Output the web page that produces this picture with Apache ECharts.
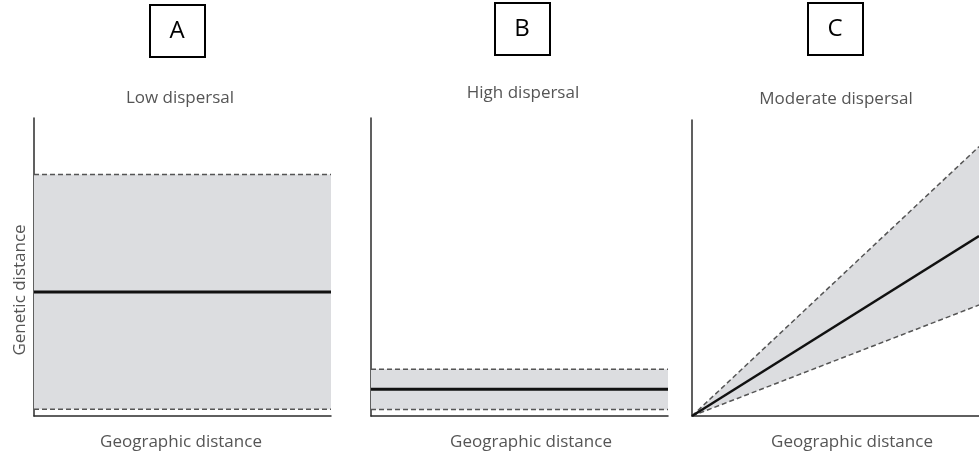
<!DOCTYPE html>
<html>
<head>
<meta charset="utf-8">
<script src="https://cdn.jsdelivr.net/npm/echarts@6/dist/echarts.min.js"></script>
<style>html,body{margin:0;padding:0;background:#fff;}#c{width:979px;height:456px;}</style>
</head>
<body>
<div id="c"></div>
<script>
// Geographic distance (relative scale: start, end)
const geoDist = ['0', '100'];
// Panel A: Low dispersal (genetic distance, relative 0-100)
const aLower = [2.3, 2.3];
const aMid = [41.6, 41.6];
const aUpper = [81, 81];
// Panel B: High dispersal
const bLower = [2.2, 2.2];
const bMid = [9, 9];
const bUpper = [15.7, 15.7];
// Panel C: Moderate dispersal
const cLower = [0, 37.5];
const cMid = [0, 60.8];
const cUpper = [0, 91];
// Text
const panelLetters = ['A', 'B', 'C'];
const panelTitles = ['Low dispersal', 'High dispersal', 'Moderate dispersal'];
const xName = 'Geographic distance';
const yName = 'Genetic distance';

const chart = echarts.init(document.getElementById('c'), null, {renderer: 'canvas'});
const FONT = '"Open Sans", "Noto Sans", sans-serif';
const AXIS_COLOR = '#2b2b2b';
const BAND = '#dcdde0';
const DASH = {color: '#555', width: 1.5, type: [5, 3]};

const grids = [
  {left: 34, top: 118, width: 297, height: 298},
  {left: 371, top: 118, width: 297, height: 298},
  {left: 692, top: 120, width: 287, height: 296}
];

const panels = [[aLower, aMid, aUpper], [bLower, bMid, bUpper], [cLower, cMid, cUpper]];
const xAxes = [], yAxes = [], series = [];
panels.forEach((p, i) => {
  const axisLine = {show: true, onZero: false, lineStyle: {color: AXIS_COLOR, width: 1.5}};
  xAxes.push({type: 'category', gridIndex: i, data: geoDist, boundaryGap: false, axisLine,
    axisTick: {show: false}, axisLabel: {show: false}, splitLine: {show: false}});
  yAxes.push({type: 'value', gridIndex: i, min: 0, max: 100, axisLine,
    axisTick: {show: false}, axisLabel: {show: false}, splitLine: {show: false}});
  const [lo, mid, up] = p;
  const diff = up.map((v, k) => v - lo[k]);
  series.push({type: 'line', xAxisIndex: i, yAxisIndex: i, stack: 'band' + i, symbol: 'none',
    data: lo, lineStyle: DASH, z: 3, silent: true});
  series.push({type: 'line', xAxisIndex: i, yAxisIndex: i, stack: 'band' + i, symbol: 'none',
    data: diff, lineStyle: DASH, areaStyle: {color: BAND, opacity: 1}, z: 3, silent: true});
  series.push({type: 'line', xAxisIndex: i, yAxisIndex: i, symbol: 'none',
    data: mid, lineStyle: {color: '#111', width: i < 2 ? 3 : 2.5}, z: 4, silent: true});
});

const textStyle = (t, x, y, size, color) => ({type: 'text', style: {text: t, x, y,
  textAlign: 'center', textVerticalAlign: 'middle', font: size + 'px ' + FONT, fill: color}});

const boxes = [
  {x: 150, y: 5, letterX: 177, letterY: 31},
  {x: 495, y: 3, letterX: 522, letterY: 29},
  {x: 808, y: 3, letterX: 835, letterY: 29}
];
const graphics = [];
boxes.forEach((b, i) => {
  graphics.push({type: 'rect', shape: {x: b.x, y: b.y, width: 55, height: 52},
    style: {fill: 'none', stroke: '#000', lineWidth: 2}});
  graphics.push(textStyle(panelLetters[i], b.letterX, b.letterY, 24, '#000'));
});
const titlePos = [[180, 98], [523, 93], [836, 99]];
panelTitles.forEach((t, i) => graphics.push(textStyle(t, titlePos[i][0], titlePos[i][1], 17, '#555')));
const xNamePos = [[181, 442], [531, 442], [852, 442]];
xNamePos.forEach(p => graphics.push(textStyle(xName, p[0], p[1], 17, '#555')));
graphics.push({type: 'text', x: 20, y: 290, rotation: Math.PI / 2,
  style: {text: yName, x: 0, y: 0, textAlign: 'center', textVerticalAlign: 'middle',
    font: '17px ' + FONT, fill: '#555'}});

chart.setOption({
  animation: false,
  grid: grids,
  xAxis: xAxes,
  yAxis: yAxes,
  series,
  graphic: graphics
});
</script>
</body>
</html>
